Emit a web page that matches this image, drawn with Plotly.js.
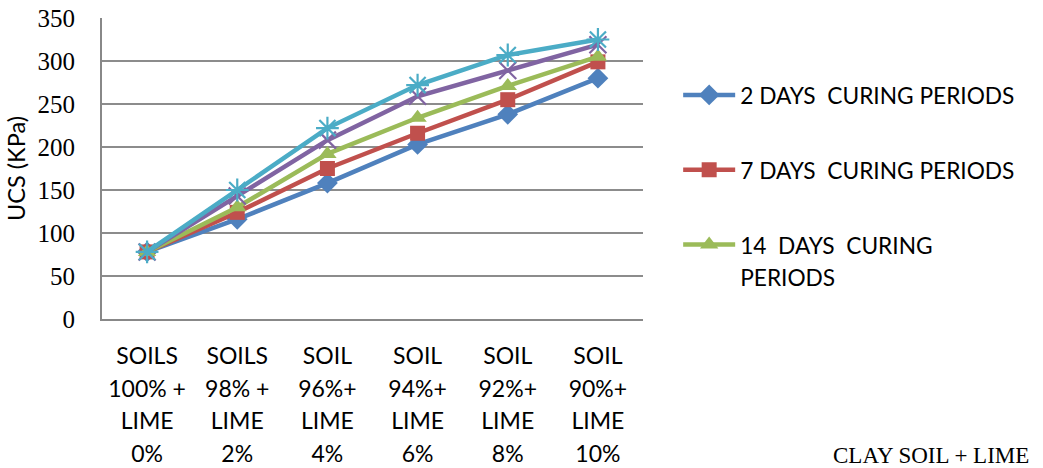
<!DOCTYPE html>
<html>
<head>
<meta charset="utf-8">
<script src="https://cdn.plot.ly/plotly-3.0.1.min.js"></script>
<style>html,body{margin:0;padding:0;background:#fff;}#chart{width:1043px;height:468px;}</style>
</head>
<body>
<div id="chart"></div>
<script>
// ---- data ----
var categories = ["SOILS 100% + LIME 0%", "SOILS 98% + LIME 2%", "SOIL 96%+ LIME 4%", "SOIL 94%+ LIME 6%", "SOIL 92%+ LIME 8%", "SOIL 90%+ LIME 10%"];
var tickLines = [
  ["SOILS", "100% +", "LIME", "0%"],
  ["SOILS", "98% +", "LIME", "2%"],
  ["SOIL", "96%+", "LIME", "4%"],
  ["SOIL", "94%+", "LIME", "6%"],
  ["SOIL", "92%+", "LIME", "8%"],
  ["SOIL", "90%+", "LIME", "10%"]
];
var seriesNameLines = [
  ["2 DAYS  CURING PERIODS"],
  ["7 DAYS  CURING PERIODS"],
  ["14  DAYS  CURING", "PERIODS"],
  ["21 DAYS  CURING PERIODS"],
  ["28 DAYS  CURING PERIODS"]
];
var days2  = [78, 116, 158, 203, 238, 280];
var days7  = [78, 124, 175, 216, 255, 299];
var days14 = [78, 130, 192, 234, 271, 305];
var days21 = [78, 143, 208, 259, 289, 319];
var days28 = [78, 150, 222, 272, 307, 325];
var yTicks = [0, 50, 100, 150, 200, 250, 300, 350];

// ---- styling ----
var colors = ["#4F81BD", "#C0504D", "#9BBB59", "#8064A2", "#4BACC6"];
var symbols = ["diamond", "square", "triangle-up", "x-thin-open", "asterisk-open"];
var sizes = [16, 15, 16, 17, 19];
var values = [days2, days7, days14, days21, days28];
var showInLegend = [true, true, true, false, false];

function spanLines(lines, px) {
  return lines.map(function (l) { return '<span style="font-size:' + px + 'px">' + l + '</span>'; }).join("<br>");
}

var traces = values.map(function (v, i) {
  var open = i >= 3;
  return {
    type: "scatter",
    mode: "lines+markers",
    x: categories,
    y: v,
    name: spanLines(seriesNameLines[i], 22.7),
    legendgroup: "g" + i,
    showlegend: showInLegend[i],
    line: {color: colors[i], width: 4.5},
    marker: {
      symbol: symbols[i],
      size: sizes[i],
      color: colors[i],
      line: {color: colors[i], width: open ? 2.2 : 0}
    }
  };
});

var tickText = tickLines.map(function (lines) { return spanLines(lines, 23); });

var layout = {
  width: 1043,
  height: 468,
  margin: {l: 102, r: 400, t: 18, b: 149},
  paper_bgcolor: "#ffffff",
  plot_bgcolor: "#ffffff",
  showlegend: true,
  legend: {
    x: 1.065, xanchor: "left",
    y: 0.819, yanchor: "top",
    traceorder: "grouped",
    tracegroupgap: 40,
    itemwidth: 52,
    valign: "top",
    font: {family: "Lato, 'Noto Sans', sans-serif", size: 24.5, color: "#000"},
    bgcolor: "rgba(0,0,0,0)",
    borderwidth: 0
  },
  xaxis: {
    type: "category",
    range: [-0.5, 5.5],
    tickvals: categories,
    ticktext: tickText,
    tickfont: {family: "Lato, 'Noto Sans', sans-serif", size: 25, color: "#000"},
    ticks: "",
    ticklabelstandoff: 13,
    showgrid: false,
    showline: true,
    linecolor: "#888888",
    linewidth: 2,
    zeroline: false,
    fixedrange: true
  },
  yaxis: {
    range: [0, 350],
    tickvals: yTicks,
    ticktext: yTicks.map(String),
    tickfont: {family: "'Liberation Serif', 'Times New Roman', serif", size: 25, color: "#000"},
    ticks: "",
    ticklabelstandoff: 20,
    showgrid: true,
    gridcolor: "#8c8c8c",
    gridwidth: 1.6,
    showline: true,
    linecolor: "#888888",
    linewidth: 2,
    zeroline: false,
    title: {text: "UCS (KPa)", font: {family: "Lato, 'Noto Sans', sans-serif", size: 23.5, color: "#000"}, standoff: 5},
    fixedrange: true
  },
  annotations: [{
    text: "CLAY SOIL + LIME",
    xref: "paper", yref: "paper",
    x: 1.718, y: -0.455,
    xanchor: "right", yanchor: "middle",
    showarrow: false,
    font: {family: "'Liberation Serif', 'Times New Roman', serif", size: 23, color: "#000"}
  }]
};

Plotly.newPlot("chart", traces, layout, {displayModeBar: false, staticPlot: true});
</script>
</body>
</html>
